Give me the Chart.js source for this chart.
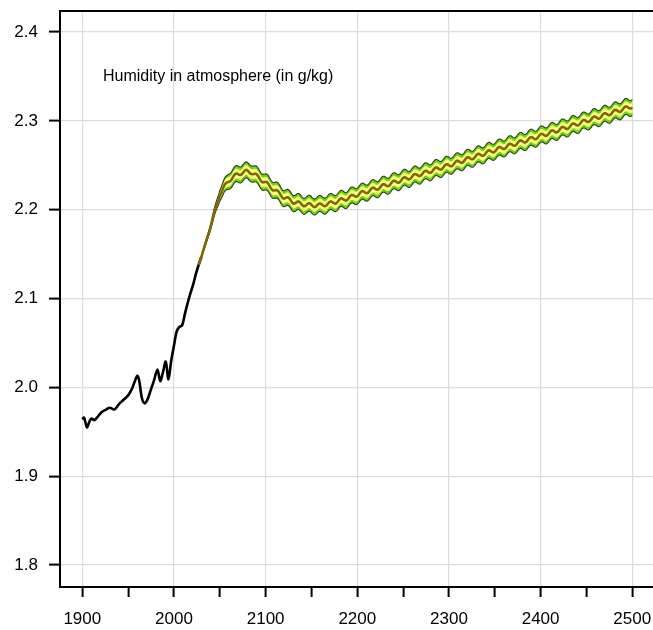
<!DOCTYPE html>
<html>
<head>
<meta charset="utf-8">
<script src="https://cdn.jsdelivr.net/npm/chart.js@4.4.1/dist/chart.umd.min.js"></script>
<style>
  html, body { margin: 0; padding: 0; background: #fff; }
  canvas { display: block; }
</style>
</head>
<body>
<canvas id="humidityChart" width="653" height="630"></canvas>
<script>
// === Data ===
// observed record (black line)
const histYears = [1900, 1902, 1905, 1908, 1910, 1913, 1916, 1921, 1926, 1930, 1935, 1940, 1945, 1950,
  1954, 1957, 1960, 1962, 1965, 1968, 1971, 1975, 1978, 1982, 1985, 1988, 1991, 1994, 1997,
  2000, 2003, 2006, 2009, 2012, 2015, 2018, 2021, 2024, 2027, 2030];
const histValues = [1.964, 1.966, 1.955, 1.962, 1.965, 1.963, 1.966, 1.972, 1.975, 1.977, 1.975, 1.981, 1.986, 1.991,
  1.998, 2.006, 2.013, 2.008, 1.988, 1.982, 1.986, 1.998, 2.007, 2.020, 2.007, 2.017, 2.029, 2.009, 2.030,
  2.047, 2.063, 2.068, 2.070, 2.083, 2.095, 2.106, 2.116, 2.128, 2.138, 2.147];

// projection: central path plus the half-widths of the outer and inner ranges
const projYears = [2027, 2030, 2035, 2040, 2045, 2050, 2055, 2060, 2065, 2070, 2075, 2080, 2085,
  2090, 2095, 2100, 2110, 2120, 2130, 2140, 2150, 2160, 2170, 2180, 2190, 2200, 2250, 2300,
  2350, 2400, 2450, 2500];
const projCenter = [2.138, 2.147, 2.164, 2.181, 2.200, 2.217, 2.226, 2.233, 2.237, 2.240, 2.242, 2.243, 2.242,
  2.238, 2.234, 2.230, 2.222, 2.214, 2.209, 2.206, 2.205, 2.205, 2.207, 2.210, 2.213, 2.217, 2.234, 2.250,
  2.267, 2.283, 2.300, 2.3165];
const outerSpread = [0, 0.001, 0.002, 0.003, 0.0045, 0.006, 0.0075, 0.0085, 0.009, 0.009, 0.009, 0.009, 0.009,
  0.009, 0.009, 0.009, 0.009, 0.009, 0.009, 0.009, 0.009, 0.009, 0.009, 0.009, 0.009, 0.009, 0.009, 0.009,
  0.009, 0.009, 0.009, 0.009];
const innerSpread = [0, 0.0005, 0.001, 0.0017, 0.0027, 0.0037, 0.0047, 0.0053, 0.0055, 0.0055, 0.0055, 0.0055, 0.0055,
  0.0055, 0.0055, 0.0055, 0.0055, 0.0055, 0.0055, 0.0055, 0.0055, 0.0055, 0.0055, 0.0055, 0.0055, 0.0055, 0.0055, 0.0055,
  0.0055, 0.0055, 0.0055, 0.0055];

const xTicks = [1900, 1950, 2000, 2050, 2100, 2150, 2200, 2250, 2300, 2350, 2400, 2450, 2500];
const yTicks = [1.8, 1.9, 2.0, 2.1, 2.2, 2.3, 2.4];
const chartNote = "Humidity in atmosphere (in g/kg)";

// ripple drawn along the projection ribbon
const ripplePeriod = 11.5;  // years
const rippleAmp = 1.8;      // px

const FONT = "'Liberation Sans', Arial, sans-serif";

function pts(xs, ys) {
  return xs.map((x, i) => ({ x: x, y: ys[i] }));
}

const bandStyle = { showLine: false, pointRadius: 0, pointHoverRadius: 0, borderWidth: 0 };

// === Ribbon plugin: draws the projection band with its ripple ===
const ribbonPlugin = {
  id: 'ribbon',
  afterDatasetsDraw(chart) {
    const ctx = chart.ctx;
    const xScale = chart.scales.x;
    const area = chart.chartArea;
    const pix = i => chart.getDatasetMeta(i).data.map(p => ({ x: p.x, y: p.y }));
    const outerHi = pix(1), outerLo = pix(2), innerHi = pix(3), innerLo = pix(4), mid = pix(5);

    const sample = (arr, x) => {
      for (let k = 1; k < arr.length; k++) {
        if (x <= arr[k].x) {
          const a = arr[k - 1], b = arr[k];
          const t = (x - a.x) / (b.x - a.x);
          return a.y + t * (b.y - a.y);
        }
      }
      return arr[arr.length - 1].y;
    };

    let fullW = 0;
    outerHi.forEach((p, i) => { fullW = Math.max(fullW, outerLo[i].y - p.y); });

    const x0 = mid[0].x, x1 = mid[mid.length - 1].x;
    const xs = [];
    for (let x = x0; x < x1; x += 0.5) xs.push(x);
    xs.push(x1);

    const ripple = xs.map(x => {
      const w = sample(outerLo, x) - sample(outerHi, x);
      const k = Math.min(1, w / fullW);
      const yr = xScale.getValueForPixel(x);
      return rippleAmp * k * Math.sin(2 * Math.PI * yr / ripplePeriod);
    });
    const trace = arr => xs.map((x, i) => [x, sample(arr, x) + ripple[i]]);

    const oHi = trace(outerHi), oLo = trace(outerLo);
    const iHi = trace(innerHi), iLo = trace(innerLo);
    const mLine = trace(mid);

    const fillBetween = (top, bottom, color) => {
      ctx.beginPath();
      top.forEach(([x, y], i) => (i ? ctx.lineTo(x, y) : ctx.moveTo(x, y)));
      for (let i = bottom.length - 1; i >= 0; i--) ctx.lineTo(bottom[i][0], bottom[i][1]);
      ctx.closePath();
      ctx.fillStyle = color;
      ctx.fill();
    };
    const stroke = (line, color, width) => {
      ctx.beginPath();
      line.forEach(([x, y], i) => (i ? ctx.lineTo(x, y) : ctx.moveTo(x, y)));
      ctx.strokeStyle = color;
      ctx.lineWidth = width;
      ctx.lineJoin = 'round';
      ctx.stroke();
    };

    ctx.save();
    ctx.beginPath();
    ctx.rect(area.left, area.top, area.right - area.left, area.bottom - area.top);
    ctx.clip();
    fillBetween(oHi, oLo, '#66dd00');
    stroke(oHi, '#333333', 1.1);
    stroke(oLo, '#333333', 1.1);
    fillBetween(iHi, iLo, '#ffff88');
    stroke(mLine, '#7d6a00', 2.6);
    ctx.restore();
  }
};

// === Frame and note ===
const framePlugin = {
  id: 'frame',
  afterDraw(chart) {
    const ctx = chart.ctx;
    const area = chart.chartArea;
    ctx.save();
    ctx.strokeStyle = '#000';
    ctx.lineWidth = 2;
    ctx.beginPath();
    ctx.moveTo(area.left - 1, area.top);
    ctx.lineTo(chart.width, area.top);
    ctx.stroke();

    ctx.fillStyle = '#000';
    ctx.font = '16px ' + FONT;
    ctx.textAlign = 'left';
    ctx.textBaseline = 'alphabetic';
    ctx.fillText(chartNote, area.left + 43, area.top + 70);
    ctx.restore();
  }
};

const ctx = document.getElementById('humidityChart').getContext('2d');

new Chart(ctx, {
  type: 'line',
  data: {
    datasets: [
      {
        label: 'Observed',
        data: pts(histYears, histValues),
        borderColor: '#000',
        borderWidth: 2.6,
        pointRadius: 0,
        tension: 0.3,
        fill: false
      },
      Object.assign({ label: 'outer high', data: pts(projYears, projCenter.map((v, i) => v + outerSpread[i])) }, bandStyle),
      Object.assign({ label: 'outer low', data: pts(projYears, projCenter.map((v, i) => v - outerSpread[i])) }, bandStyle),
      Object.assign({ label: 'inner high', data: pts(projYears, projCenter.map((v, i) => v + innerSpread[i])) }, bandStyle),
      Object.assign({ label: 'inner low', data: pts(projYears, projCenter.map((v, i) => v - innerSpread[i])) }, bandStyle),
      Object.assign({ label: 'central', data: pts(projYears, projCenter) }, bandStyle)
    ]
  },
  options: {
    responsive: false,
    animation: false,
    events: [],
    layout: { padding: { top: 11, right: 0, left: 0, bottom: 0 } },
    plugins: {
      legend: { display: false },
      tooltip: { enabled: false }
    },
    scales: {
      x: {
        type: 'linear',
        min: 1875.67,
        max: 2522.6,
        afterBuildTicks: s => { s.ticks = xTicks.map(v => ({ value: v })); },
        afterFit: s => { s.height = 43; s.paddingLeft = 0; s.paddingRight = 0; },
        ticks: {
          autoSkip: false,
          maxRotation: 0,
          padding: 12,
          color: '#000',
          font: { family: FONT, size: 17 },
          callback: v => (v % 100 === 0 ? String(v) : '')
        },
        grid: {
          color: c => (c.tick && c.tick.value % 100 === 0 ? '#dcdcdc' : 'rgba(0,0,0,0)'),
          lineWidth: 1.2,
          tickColor: '#000',
          tickLength: 10,
          tickWidth: 2
        },
        border: { color: '#000', width: 2 }
      },
      y: {
        type: 'linear',
        min: 1.77524,
        max: 2.42364,
        afterBuildTicks: s => { s.ticks = yTicks.map(v => ({ value: v })); },
        afterFit: s => { s.width = 60; s.paddingTop = 0; s.paddingBottom = 0; },
        ticks: {
          padding: 11,
          color: '#000',
          font: { family: FONT, size: 17 },
          callback: v => v.toFixed(1)
        },
        grid: {
          color: '#dcdcdc',
          lineWidth: 1.2,
          tickColor: '#000',
          tickLength: 11,
          tickWidth: 2
        },
        border: { color: '#000', width: 2 }
      }
    }
  },
  plugins: [ribbonPlugin, framePlugin]
});
</script>
</body>
</html>
